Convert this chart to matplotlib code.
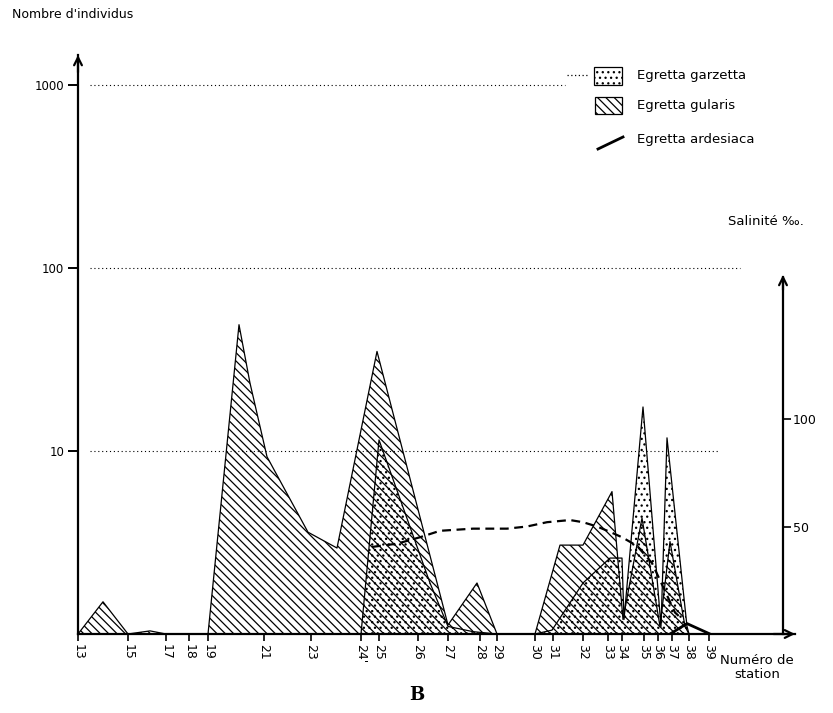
import matplotlib
matplotlib.use("Agg")
import matplotlib.pyplot as plt
from matplotlib.patches import Rectangle
from matplotlib.lines import Line2D

# ---------------- data ----------------
# station positions along the transect (arbitrary distance units) and labels
station_pos = [78, 128, 166, 189, 208, 264, 311, 361, 379, 418, 448, 480, 497,
               535, 553, 583, 608, 622, 644, 658, 672, 689, 709]
station_lbl = ['13', '15', '17', '18', '19', '21', '23', "24'", '25', '26', '27',
               '28', '29', '30', '31', '32', '33', '34', '35', '36', '37', '38', '39']

# Egretta gularis (number of individuals, log scale, baseline = 1)
gul_x = [78, 103, 128, 150, 166, 208, 239, 250, 267, 308, 337, 377, 448, 477, 497,
         535, 560, 583, 612, 623, 642, 660, 670, 685, 689]
gul_y = [1, 1.5, 1, 1.04, 1, 1, 49, 23.5, 9.3, 3.6, 2.95, 35, 1.12, 1.9, 1,
         1, 3.06, 3.06, 6.0, 1.2, 4.3, 1.1, 3.2, 1.1, 1]

# Egretta garzetta
gar_x = [361, 379, 430, 448, 473, 497, 535, 552, 583, 610, 622, 624, 643, 661, 667, 687, 689]
gar_y = [1, 11.5, 1.9, 1.1, 1.03, 1, 1, 1.05, 1.9, 2.6, 2.6, 1.2, 17.4, 1.1, 11.8, 1.1, 1]

# Egretta ardesiaca
ard_x = [670, 687, 710]
ard_y = [1.0, 1.14, 1.0]

# Salinity (per mille)
sal_x = [372, 397, 420, 440, 473, 507, 527, 547, 570, 583, 597, 610, 622, 637, 652, 675, 682]
sal_y = [40.5, 42, 45, 48, 49, 49, 50, 52, 53, 52, 50, 47.5, 45, 41, 33, 10, 7]

yticks_left = [10, 100, 1000]
yticks_right = [50, 100]

# ---------------- figure ----------------
W, H = 833, 713
fig = plt.figure(figsize=(W / 100, H / 100), dpi=100)
plt.rcParams['hatch.linewidth'] = 0.9


def fx(x):
    return x / W


def fy(y):
    return 1 - y / H


x0, x1, yb, yt = 78, 795, 634, 55
ax = fig.add_axes([fx(x0), fy(yb), (x1 - x0) / W, (yb - yt) / H])
ax.set_xlim(x0, x1)
ax.set_yscale('log')
ax.set_ylim(1, 10 ** ((yb - yt) / 183.0))

for s in ['top', 'right']:
    ax.spines[s].set_visible(False)
ax.spines['left'].set_linewidth(1.6)
ax.spines['bottom'].set_linewidth(1.6)

# gridlines (dotted)
ax.hlines(10, 90, 720, colors='black', linestyles=(0, (1, 2.5)), linewidth=0.8)
ax.hlines(100, 90, 740, colors='black', linestyles=(0, (1, 2.5)), linewidth=0.8)
ax.hlines(1000, 90, 565, colors='black', linestyles=(0, (1, 2.5)), linewidth=0.8)

# filled areas
ax.fill_between(gul_x, 1, gul_y, facecolor='none', edgecolor='black',
                hatch='\\\\\\\\', linewidth=0.9)
ax.fill_between(gar_x, 1, gar_y, facecolor='none', edgecolor='black',
                hatch='...', linewidth=0.9)
ax.plot(ard_x, ard_y, color='black', linewidth=2.0, solid_capstyle='round')

# ticks
ax.set_yticks(yticks_left)
ax.set_yticklabels([str(v) for v in yticks_left])
ax.yaxis.set_minor_locator(matplotlib.ticker.NullLocator())
ax.tick_params(axis='y', direction='out', length=7, width=1.4, labelsize=8.5, pad=3)
ax.set_xticks(station_pos)
ax.set_xticklabels(station_lbl, rotation=-90, fontsize=9)
ax.tick_params(axis='x', direction='out', length=5, width=1.2, pad=2)

# axis arrows
ax.annotate('', xy=(0, 1.0), xytext=(0, 0.97), xycoords='axes fraction',
            arrowprops=dict(arrowstyle='->', lw=1.6, color='black',
                            mutation_scale=14, shrinkA=0, shrinkB=0))
ax.annotate('', xy=(1.0, 0), xytext=(0.97, 0), xycoords='axes fraction',
            arrowprops=dict(arrowstyle='->', lw=1.6, color='black',
                            mutation_scale=14, shrinkA=0, shrinkB=0))

# right salinity axis
ax2 = ax.twinx()
ax2.set_ylim(0, (yb - yt) / 2.15)
for s in ['top', 'left', 'bottom']:
    ax2.spines[s].set_visible(False)
ax2.spines['right'].set_position(('data', 783))
ax2.spines['right'].set_bounds(0, 166)
ax2.spines['right'].set_linewidth(1.6)
ax2.set_yticks(yticks_right)
ax2.set_yticklabels([str(v) for v in yticks_right])
ax2.tick_params(axis='y', direction='out', length=6, width=1.2, labelsize=9, pad=1)
ax2.plot(sal_x, sal_y, color='black', linewidth=1.6, linestyle=(0, (4, 2.5)))
ax2.annotate('', xy=(783, 167), xytext=(783, 160), xycoords='data',
             arrowprops=dict(arrowstyle='->', lw=1.6, color='black',
                             mutation_scale=14, shrinkA=0, shrinkB=0))

# texts
fig.text(fx(12), fy(15), "Nombre d'individus", fontsize=9, va='center', ha='left')
fig.text(fx(728), fy(222), "Salinité ‰.", fontsize=9.5, va='center', ha='left')
fig.text(fx(757), fy(667), "Numéro de\nstation", fontsize=9.5, va='center', ha='center',
         linespacing=1.1)
fig.text(fx(417), fy(695), "B", fontsize=13, fontweight='bold', family='DejaVu Serif',
         va='center', ha='center')

# legend (drawn manually)
fig.add_artist(Line2D([fx(567), fx(588)], [fy(75), fy(75)], color='black',
                      linestyle=(0, (1, 2)), linewidth=0.9))
fig.add_artist(Rectangle((fx(594), fy(85)), 28 / W, 18 / H, facecolor='none',
                         edgecolor='black', hatch='...', linewidth=0.9,
                         transform=fig.transFigure))
fig.add_artist(Rectangle((fx(595), fy(114)), 27 / W, 17 / H, facecolor='none',
                         edgecolor='black', hatch='\\\\\\\\', linewidth=0.9,
                         transform=fig.transFigure))
fig.add_artist(Line2D([fx(598), fx(623)], [fy(149), fy(137)], color='black',
                      linewidth=2.0))
fig.text(fx(637), fy(75), "Egretta garzetta", fontsize=9.5, va='center', ha='left')
fig.text(fx(637), fy(106), "Egretta gularis", fontsize=9.5, va='center', ha='left')
fig.text(fx(637), fy(139), "Egretta ardesiaca", fontsize=9.5, va='center', ha='left')

fig.savefig('out.png', dpi=100)
